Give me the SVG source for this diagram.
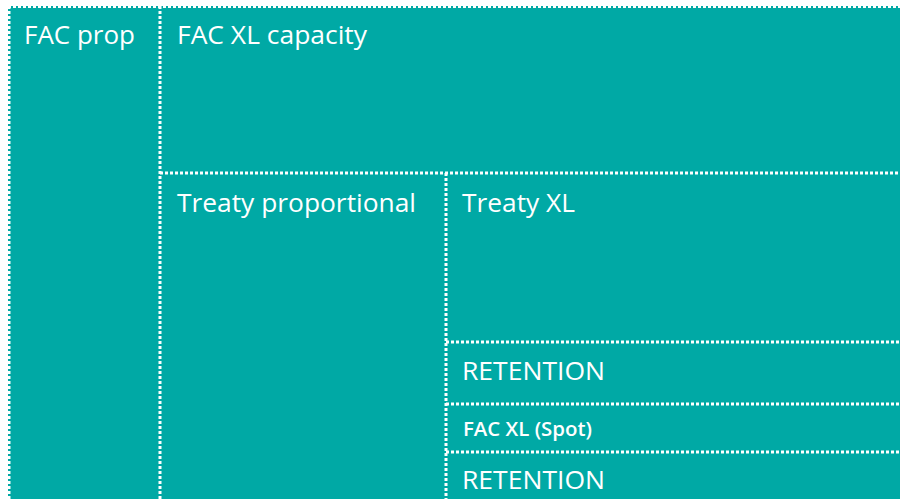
<svg xmlns="http://www.w3.org/2000/svg" width="900" height="499" viewBox="0 0 900 499">
<style>
.box{fill:#00a9a5;stroke:none}
.ln{stroke:#ffffff;stroke-width:3;stroke-dasharray:3 2;fill:none}
.t{font-family:"Open Sans","Noto Sans",sans-serif;fill:#ffffff}
</style>
<rect width="900" height="499" fill="#ffffff"/>
<g id="fac-prop">
<rect class="box" x="8" y="6" width="152" height="500"/>
<text class="t" x="24" y="44" font-size="26" textLength="111" lengthAdjust="spacingAndGlyphs">FAC prop</text>
</g>
<g id="fac-xl-capacity">
<rect class="box" x="160" y="6" width="740" height="167"/>
<text class="t" x="177" y="44" font-size="26" textLength="190" lengthAdjust="spacingAndGlyphs">FAC XL capacity</text>
</g>
<g id="treaty-proportional">
<rect class="box" x="160" y="173" width="286" height="330"/>
<text class="t" x="177" y="212" font-size="26" textLength="239" lengthAdjust="spacingAndGlyphs">Treaty proportional</text>
</g>
<g id="treaty-xl">
<rect class="box" x="446" y="173" width="454" height="169"/>
<text class="t" x="462" y="212" font-size="26" textLength="113" lengthAdjust="spacingAndGlyphs">Treaty XL</text>
</g>
<g id="retention-1">
<rect class="box" x="446" y="342" width="454" height="62"/>
<text class="t" x="462" y="380" font-size="25" textLength="143" lengthAdjust="spacingAndGlyphs">RETENTION</text>
</g>
<g id="fac-xl-spot">
<rect class="box" x="446" y="404" width="454" height="48"/>
<text class="t" x="463" y="436" font-size="20" font-weight="600" textLength="129" lengthAdjust="spacingAndGlyphs">FAC XL (Spot)</text>
</g>
<g id="retention-2">
<rect class="box" x="446" y="452" width="454" height="50"/>
<text class="t" x="462" y="489" font-size="25" textLength="143" lengthAdjust="spacingAndGlyphs">RETENTION</text>
</g>
<g id="connectors">
<path class="ln" d="M8 6.5 H900"/>
<path class="ln" d="M9 6 V499"/>
<path class="ln" d="M160 6 V499"/>
<path class="ln" d="M160 173 H900"/>
<path class="ln" d="M446 173 V499"/>
<path class="ln" d="M446 342 H900"/>
<path class="ln" d="M446 404 H900"/>
<path class="ln" d="M446 452 H900"/>
</g>
</svg>
